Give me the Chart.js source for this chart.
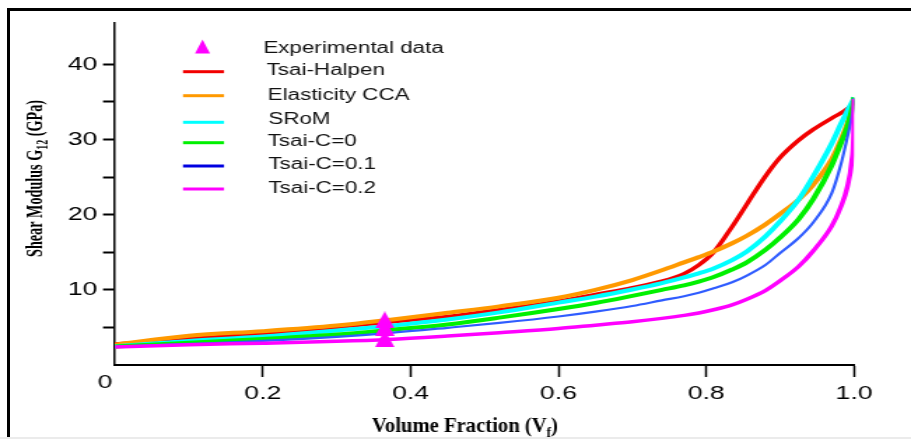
<!DOCTYPE html>
<html>
<head>
<meta charset="utf-8">
<script src="https://cdn.jsdelivr.net/npm/chart.js@4.4.1/dist/chart.umd.min.js"></script>
<style>
  html, body { margin: 0; padding: 0; background: #fff; }
  body { width: 911px; height: 439px; position: relative; overflow: hidden; }
  #frame { position: absolute; left: 7px; top: 8px; width: 930px; height: 426px; border-left: 3px solid #000; border-top: 3px solid #000; }
  #edge { position: absolute; left: 0; top: 437px; width: 911px; height: 2px; background: #ebebeb; }
  /* the source figure is stretched sideways, so the canvas is drawn narrow and widened */
  #wrap { position: absolute; left: 0; top: 0; width: 651px; height: 439px; transform: scaleX(1.39939); transform-origin: 0 0; }
</style>
</head>
<body>
<div id="frame"></div>
<div id="edge"></div>
<div id="wrap"><canvas id="chart" width="651" height="439"></canvas></div>
<script>
const STRETCH = 911 / 651;

// volume fraction Vf (shared by all model curves)
const volumeFraction = [0, 0.1, 0.2, 0.3, 0.37, 0.45, 0.52, 0.6, 0.65, 0.7, 0.74, 0.77, 0.79, 0.81, 0.835, 0.855, 0.88, 0.9, 0.925, 0.945, 0.97, 0.982, 0.991, 0.997, 0.9995, 1.0];

// shear modulus G12 (GPa) per model
const tsaiHalpen    = [2.8, 3.5, 4.2, 5.0, 5.7, 6.45, 7.35, 8.5, 9.4, 10.3, 11.15, 12.15, 13.3, 15.0, 18.4, 21.4, 25.1, 27.6, 29.9, 31.35, 32.85, 33.5, 34.1, 34.6, 34.9, 35.2];
const elasticityCCA = [2.7, 3.9, 4.5, 5.25, 6.0, 6.95, 7.8, 8.95, 10.0, 11.3, 12.6, 13.65, 14.35, 15.1, 16.2, 17.2, 18.7, 20.1, 22.0, 24.0, 27.4, 29.9, 32.1, 34.2, 35.2, 35.6];
const sRoM          = [2.5, 3.2, 3.8, 4.6, 5.2, 6.05, 7.0, 8.3, 9.1, 10.05, 10.9, 11.65, 12.2, 12.85, 13.95, 15.1, 17.1, 19.1, 22.0, 25.1, 29.5, 32.0, 33.8, 34.9, 35.4, 35.65];
const tsaiC0        = [2.45, 2.95, 3.45, 4.05, 4.65, 5.4, 6.3, 7.45, 8.25, 9.2, 10.0, 10.6, 11.1, 11.7, 12.7, 13.65, 15.3, 16.95, 19.4, 22.1, 26.6, 29.45, 31.7, 33.9, 35.0, 35.6];
const tsaiC01       = [2.4, 2.8, 3.2, 3.75, 4.25, 4.95, 5.6, 6.45, 7.1, 7.85, 8.6, 9.15, 9.6, 10.2, 11.0, 11.9, 13.3, 14.9, 16.9, 19.0, 22.9, 26.6, 30.3, 33.0, 34.6, 35.5];
const tsaiC02       = [2.4, 2.7, 2.9, 3.15, 3.4, 3.85, 4.3, 4.85, 5.3, 5.75, 6.2, 6.6, 6.92, 7.35, 8.0, 8.75, 9.9, 11.2, 13.1, 15.2, 18.5, 21.0, 23.7, 27.2, 31.2, 35.4];

// experimental points
const expVf  = [0.365, 0.365, 0.365];
const expG12 = [6.0, 5.0, 3.5];

const seriesLabels = ['Experimental data', 'Tsai-Halpen', 'Elasticity CCA', 'SRoM', 'Tsai-C=0', 'Tsai-C=0.1', 'Tsai-C=0.2'];
const seriesColors = ['#ff00ff', '#f20000', '#ff9900', '#00ffff', '#00f000', '#2f5cff', '#ff00ff'];
const legendColors = ['#ff00ff', '#f20000', '#ff9900', '#00ffff', '#00f000', '#0000e0', '#ff00ff'];

const xTicks = [0.2, 0.4, 0.6, 0.8, 1.0];
const yTicks = [5, 10, 15, 20, 25, 30, 35, 40];
const yLabelled = [10, 20, 30, 40];

function triangleMark(w, h, color) {
  const c = document.createElement('canvas');
  c.width = w; c.height = h;
  const g = c.getContext('2d');
  g.fillStyle = color;
  g.beginPath(); g.moveTo(w / 2, 0); g.lineTo(w, h); g.lineTo(0, h); g.closePath(); g.fill();
  return c;
}

const pts = (xs, ys) => xs.map((x, i) => ({ x, y: ys[i] }));

function curve(idx, ys, width, order) {
  return {
    label: seriesLabels[idx], data: pts(volumeFraction, ys),
    borderColor: seriesColors[idx], backgroundColor: seriesColors[idx],
    borderWidth: width, pointRadius: 0, cubicInterpolationMode: 'monotone', fill: false, order
  };
}

const datasets = [
  { label: seriesLabels[0], data: pts(expVf, expG12), showLine: false, order: 0,
    pointStyle: triangleMark(14, 17, seriesColors[0]), pointRadius: 8,
    borderColor: seriesColors[0], backgroundColor: seriesColors[0] },
  curve(6, tsaiC02, 3.5, 1),
  curve(5, tsaiC01, 2.2, 2),
  curve(4, tsaiC0, 4, 3),
  curve(3, sRoM, 4, 4),
  curve(2, elasticityCCA, 4, 5),
  curve(1, tsaiHalpen, 3.5, 6)
];

const X = px => px / STRETCH; // page x -> canvas x

function drawRich(ctx, parts, size, target) {
  const base = `bold ${size}px "Liberation Serif"`;
  const small = `bold ${Math.round(size * 0.68)}px "Liberation Serif"`;
  let total = 0;
  parts.forEach(p => { ctx.font = p.sub ? small : base; p.w = ctx.measureText(p.t).width; total += p.w; });
  ctx.scale(target / total, 1);
  let cx = -total / 2;
  ctx.textAlign = 'left'; ctx.textBaseline = 'alphabetic';
  parts.forEach(p => { ctx.font = p.sub ? small : base; ctx.fillText(p.t, cx, p.sub ? size * 0.22 : 0); cx += p.w; });
}

const decor = {
  id: 'decor',
  afterDraw(chart) {
    const ctx = chart.ctx;
    ctx.save();
    ctx.fillStyle = '#000';

    // legend
    const rowY = [49, 71.7, 95.7, 122.3, 142.7, 166, 189];
    const textY = [49, 71, 95.5, 119.7, 141.5, 165, 188.5];
    const textX = [263.3, 266.7, 267.7, 268.3, 267.7, 268.3, 268.3];
    ctx.font = '16px "Liberation Sans"';
    ctx.textBaseline = 'middle'; ctx.textAlign = 'left';
    seriesLabels.forEach((lab, i) => {
      if (i === 0) {
        ctx.fillStyle = legendColors[0];
        ctx.beginPath();
        ctx.moveTo(X(202.5), 39.5); ctx.lineTo(X(210), 53.5); ctx.lineTo(X(195), 53.5); ctx.closePath();
        ctx.fill();
      } else {
        ctx.strokeStyle = legendColors[i]; ctx.lineWidth = 3;
        ctx.beginPath(); ctx.moveTo(X(183), rowY[i]); ctx.lineTo(X(224), rowY[i]); ctx.stroke();
      }
      ctx.fillStyle = '#111';
      ctx.fillText(lab, X(textX[i]), textY[i]);
    });

    // origin label
    ctx.fillStyle = '#000';
    ctx.font = '19px "Liberation Sans"';
    ctx.textAlign = 'center';
    ctx.fillText('0', X(105), 383);

    // x title
    ctx.save();
    ctx.translate(X(465), 432);
    drawRich(ctx, [{ t: 'Volume Fraction (V' }, { t: 'f', sub: true }, { t: ')' }], 21, X(186));
    ctx.restore();

    // y title
    ctx.save();
    ctx.translate(X(42), 178.5);
    ctx.rotate(-Math.PI / 2);
    drawRich(ctx, [{ t: 'Shear Modulus G' }, { t: '12', sub: true }, { t: ' (GPa)' }], 17, 157);
    ctx.restore();

    ctx.restore();
  }
};

new Chart(document.getElementById('chart'), {
  type: 'line',
  data: { datasets },
  options: {
    responsive: false,
    devicePixelRatio: 1,
    animation: false,
    layout: { padding: { top: 23, right: 651 - X(854), left: 0, bottom: 0 } },
    plugins: { legend: { display: false }, tooltip: { enabled: false } },
    scales: {
      x: {
        type: 'linear', min: 0, max: 1,
        afterBuildTicks: s => { s.ticks = xTicks.map(v => ({ value: v })); },
        afterFit: s => { s.height = 439 - 365; },
        grid: { drawOnChartArea: false, drawTicks: true, tickLength: 12, tickWidth: 1.5, tickColor: '#000' },
        border: { display: true, color: '#000', width: 2 },
        ticks: { color: '#000', font: { family: 'Liberation Sans', size: 19 }, padding: 5,
                 maxRotation: 0, autoSkip: false, callback: v => v.toFixed(1) }
      },
      y: {
        type: 'linear', min: 0, max: 45.5,
        afterBuildTicks: s => { s.ticks = yTicks.map(v => ({ value: v })); },
        afterFit: s => { s.width = X(115); },
        grid: { drawOnChartArea: false, drawTicks: true, tickLength: X(12), tickWidth: 2, tickColor: '#000' },
        border: { display: true, color: '#000', width: 1.5 },
        ticks: { color: '#000', font: { family: 'Liberation Sans', size: 19 }, padding: 4,
                 autoSkip: false, callback: v => yLabelled.includes(v) ? String(v) : '' }
      }
    }
  },
  plugins: [decor]
});
</script>
</body>
</html>
